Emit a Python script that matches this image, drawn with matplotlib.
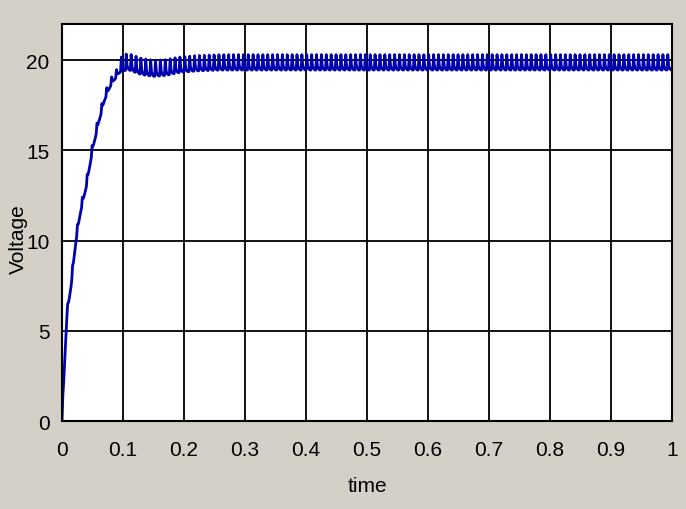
import numpy as np
import matplotlib.pyplot as plt

# mean voltage (time, volts)
base_t = [0.0, 0.004, 0.008, 0.015, 0.023, 0.030, 0.040, 0.050, 0.060, 0.070, 0.080, 0.090,
          0.097, 0.110, 0.130, 0.150, 0.170, 0.190, 0.220, 0.260, 1.0]
base_v = [0.0, 3.0, 5.8, 7.5, 10.0, 11.5, 13.0, 15.0, 16.5, 17.8, 18.6, 19.1,
          19.4, 19.45, 19.2, 19.1, 19.15, 19.3, 19.4, 19.45, 19.45]
# ripple height over time (volts)
amp_t = [0.0, 0.09, 0.10, 0.13, 0.2, 1.0]
amp_v = [0.4, 0.4, 0.9, 0.9, 0.85, 0.85]
# one switching cycle of the ripple (fraction of ripple height)
ripple_shape = [0.0, 1.0, 0.3, 0.12, 0.05, 0.0, 0.0]
period = 0.008

xticks = [0, 0.1, 0.2, 0.3, 0.4, 0.5, 0.6, 0.7, 0.8, 0.9, 1]
xticklabels = ['0', '0.1', '0.2', '0.3', '0.4', '0.5', '0.6', '0.7', '0.8', '0.9', '1']
yticks = [0, 5, 10, 15, 20]

plt.rcParams['font.family'] = ['Liberation Sans', 'DejaVu Sans']

n_cycles = int(round(1.0 / period))
k = len(ripple_shape) - 1
t = np.linspace(0, 1.0, n_cycles * k + 1)
shape = np.array(ripple_shape[:-1] * n_cycles + [0.0])
v = np.interp(t, base_t, base_v) + shape * np.interp(t, amp_t, amp_v)

fig = plt.figure(figsize=(6.86, 5.10), dpi=100)
fig.patch.set_facecolor('#d4d0c8')
ax = fig.add_axes([0.0904, 0.1725, 0.889, 0.7785])
ax.set_facecolor('white')
ax.plot(t, v, color='#0000b0', linewidth=2.0)
ax.set_xlim(0, 1)
ax.set_ylim(0, 22)
ax.set_xticks(xticks)
ax.set_xticklabels(xticklabels)
ax.set_yticks(yticks)
ax.grid(True, color='black', linewidth=1.3)
for s in ax.spines.values():
    s.set_color('black')
    s.set_linewidth(1.5)
ax.tick_params(axis='y', length=0, labelsize=15, pad=9)
ax.tick_params(axis='x', length=0, labelsize=15, pad=14)
ax.set_xlabel('time', fontsize=15, labelpad=12)
ax.set_ylabel('Voltage', fontsize=15)
ax.yaxis.set_label_coords(-0.072, 0.46)
ax.yaxis.label.set_verticalalignment('center')

fig.savefig('out.png', dpi=100, facecolor=fig.get_facecolor())
